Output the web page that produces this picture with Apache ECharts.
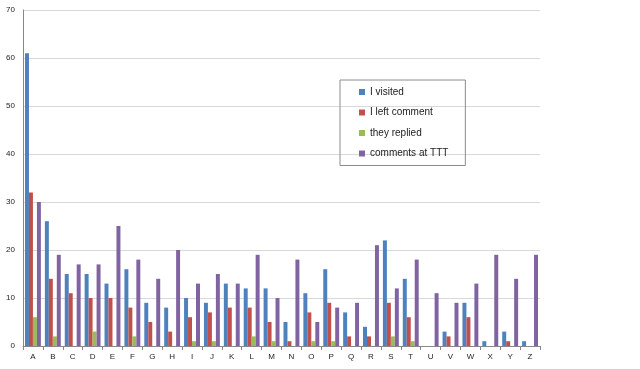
<!DOCTYPE html>
<html>
<head>
<meta charset="utf-8">
<script src="https://cdn.jsdelivr.net/npm/echarts@6/dist/echarts.min.js"></script>
<style>html,body{margin:0;padding:0;background:#fff;}#c{width:640px;height:369px;}</style>
</head>
<body>
<div id="c"></div>
<script>
const categories = ['A','B','C','D','E','F','G','H','I','J','K','L','M','N','O','P','Q','R','S','T','U','V','W','X','Y','Z'];
const visited   = [61,26,15,15,13,16,9,8,10,9,13,12,12,5,11,16,7,4,22,14,0,3,9,1,3,1];
const leftComment = [32,14,11,10,10,8,5,3,6,7,8,8,5,1,7,9,2,2,9,6,0,2,6,0,1,0];
const replied   = [6,2,0,3,0,2,0,0,1,1,0,2,1,0,1,1,0,0,2,1,0,0,0,0,0,0];
const tttComments = [30,19,17,17,25,18,14,20,13,15,13,19,10,18,5,8,9,21,12,18,11,9,13,19,14,19];
const yTicks = {min:0, max:70, interval:10};

const font = 'Liberation Sans, Arial, sans-serif';
const chart = echarts.init(document.getElementById('c'), null, {renderer:'canvas'});
function s(name, data, color){
  return {name, type:'bar', data, barGap:'0%', barCategoryGap:'20%',
    itemStyle:{color}, emphasis:{disabled:true}};
}
chart.setOption({
  animation:false,
  backgroundColor:'#fff',
  grid:{left:23, right:100, top:10, bottom:23, containLabel:false},
  legend:{
    orient:'vertical', left:340, top:80,
    padding:[6,17,6,19], itemGap:8.5,
    itemWidth:6, itemHeight:6, icon:'rect',
    borderColor:'#8c8c8c', borderWidth:1,
    textStyle:{fontFamily:font, fontSize:10, color:'#222', lineHeight:12},
    data:['I visited','I left comment','they replied','comments at TTT']
  },
  xAxis:{
    type:'category', data:categories,
    axisLine:{lineStyle:{color:'#888'}},
    axisTick:{show:true, length:4, lineStyle:{color:'#888'}},
    axisLabel:{fontFamily:font, fontSize:8, color:'#222', margin:7}
  },
  yAxis:{
    type:'value', min:yTicks.min, max:yTicks.max, interval:yTicks.interval,
    axisLine:{show:true, lineStyle:{color:'#888'}},
    axisTick:{show:false},
    axisLabel:{fontFamily:font, fontSize:8, color:'#222', margin:8},
    splitLine:{lineStyle:{color:'#d9d9d9'}}
  },
  series:[
    s('I visited', visited, '#4F81BD'),
    s('I left comment', leftComment, '#C0504D'),
    s('they replied', replied, '#9BBB59'),
    s('comments at TTT', tttComments, '#8064A2')
  ]
});
</script>
</body>
</html>
